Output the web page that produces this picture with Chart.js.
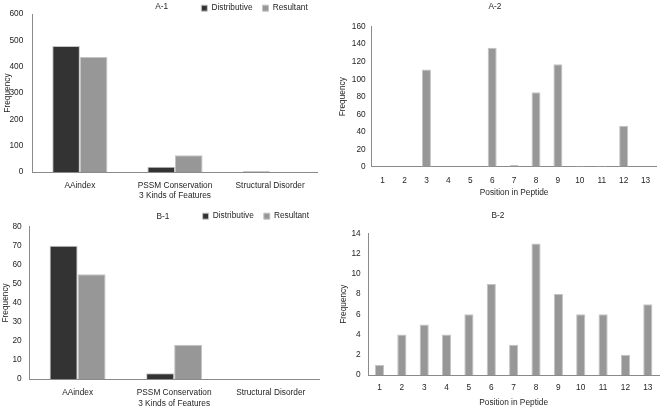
<!DOCTYPE html>
<html>
<head>
<meta charset="utf-8">
<script src="https://cdn.jsdelivr.net/npm/chart.js@4.4.1/dist/chart.umd.min.js"></script>
<style>
    body { margin: 0; background: #fff; }
    .panel { position: absolute; }
</style>
</head>
<body>
<div class="panel" style="left:0;top:0"><canvas id="a1" width="330" height="200"></canvas></div>
<div class="panel" style="left:330px;top:0"><canvas id="a2" width="331" height="200"></canvas></div>
<div class="panel" style="left:0;top:200px"><canvas id="b1" width="330" height="209"></canvas></div>
<div class="panel" style="left:330px;top:200px"><canvas id="b2" width="331" height="209"></canvas></div>
<script>
// Data
const features = ['AAindex', 'PSSM Conservation', 'Structural Disorder'];
const positions = ['1', '2', '3', '4', '5', '6', '7', '8', '9', '10', '11', '12', '13'];

const a1Distributive = [479, 20, 3];
const a1Resultant = [437, 64, 0];
const a2Counts = [0, 0, 111, 0, 0, 136, 2, 85, 117, 1, 1, 47, 0];

const b1Distributive = [70, 3, 0];
const b1Resultant = [55, 18, 0];
const b2Counts = [1, 4, 5, 4, 6, 9, 3, 13, 8, 6, 6, 2, 7];

const DARK = '#333333';
const LIGHT = '#979797';
const EDGE = '#c4c4c4';
const AXIS = '#8a8a8a';
const TEXT = '#1e1e1e';

Chart.defaults.font.family = '"Liberation Sans", Arial, sans-serif';
Chart.defaults.font.size = 8.3;
Chart.defaults.color = TEXT;

// Small panel label ("A-1" etc.) drawn on the canvas
const panelTitle = {
    id: 'panelTitle',
    afterDraw(chart, args, opts) {
        if (!opts.text) return;
        const ctx = chart.ctx;
        ctx.save();
        ctx.font = '8.3px "Liberation Sans", Arial, sans-serif';
        ctx.fillStyle = TEXT;
        ctx.textAlign = 'center';
        ctx.textBaseline = 'middle';
        ctx.fillText(opts.text, opts.x, opts.y);
        ctx.restore();
    }
};

function axes(g, xTitle, yMax, yStep) {
    return {
        x: {
            grid: { display: false, drawTicks: false },
            border: { color: AXIS },
            ticks: { padding: g.xTickPad, maxRotation: 0, autoSkip: false },
            title: {
                display: true,
                text: xTitle,
                // tick padding is counted twice by the scale fit, take it back here
                padding: { top: g.xTitleTop - g.xTickPad, bottom: g.xTitleBottom }
            }
        },
        y: {
            min: 0,
            max: yMax,
            grid: { display: false, drawTicks: false },
            border: { color: AXIS },
            ticks: { stepSize: yStep, padding: g.yTickPad },
            title: {
                display: true,
                text: 'Frequency',
                padding: { top: g.yTitlePad, bottom: 0 }
            },
            afterFit: scale => { scale.width = g.yWidth; }
        }
    };
}

function featureChart(id, title, dist, res, yMax, yStep, g) {
    return new Chart(document.getElementById(id), {
        type: 'bar',
        data: {
            labels: features,
            datasets: [
                { label: 'Distributive', data: dist, backgroundColor: DARK, borderColor: EDGE, borderWidth: 1 },
                { label: 'Resultant', data: res, backgroundColor: LIGHT, borderColor: EDGE, borderWidth: 1 }
            ]
        },
        options: {
            responsive: false,
            animation: false,
            events: [],
            layout: { padding: { top: g.top, right: g.right, left: 0, bottom: 0 } },
            datasets: { bar: { categoryPercentage: 0.58, barPercentage: 1 } },
            plugins: {
                legend: {
                    position: 'top',
                    align: 'end',
                    maxHeight: g.legendH,
                    labels: { boxWidth: 6, boxHeight: 6, padding: 10, color: TEXT }
                },
                tooltip: { enabled: false },
                panelTitle: { text: title, x: g.titleX, y: g.titleY }
            },
            scales: axes(g, '3 Kinds of Features', yMax, yStep)
        },
        plugins: [panelTitle]
    });
}

function positionChart(id, title, counts, yMax, yStep, g) {
    return new Chart(document.getElementById(id), {
        type: 'bar',
        data: {
            labels: positions,
            datasets: [
                { label: 'Frequency', data: counts, backgroundColor: LIGHT, borderColor: EDGE, borderWidth: 1 }
            ]
        },
        options: {
            responsive: false,
            animation: false,
            events: [],
            layout: { padding: { top: g.top, right: g.right, left: 0, bottom: 0 } },
            datasets: { bar: { categoryPercentage: 1, barPercentage: 0.41 } },
            plugins: {
                legend: { display: false },
                tooltip: { enabled: false },
                panelTitle: { text: title, x: g.titleX, y: g.titleY }
            },
            scales: axes(g, 'Position in Peptide', yMax, yStep)
        },
        plugins: [panelTitle]
    });
}

featureChart('a1', 'A-1', a1Distributive, a1Resultant, 600, 100, {
    top: -6, right: 12.3, legendH: 20, titleX: 161.7, titleY: 7,
    xTickPad: 8.5, xTitleTop: 0.5, xTitleBottom: -1,
    yTickPad: 9, yTitlePad: 3, yWidth: 32.3
});

positionChart('a2', 'A-2', a2Counts, 160, 20, {
    top: 26.7, right: 4.5, titleX: 165, titleY: 7,
    xTickPad: 9.3, xTitleTop: 2, xTitleBottom: 2,
    yTickPad: 6, yTitlePad: 7.7, yWidth: 41.7
});

featureChart('b1', 'B-1', b1Distributive, b1Resultant, 80, 10, {
    top: 2, right: 11, legendH: 24.7, titleX: 163, titleY: 16.5,
    xTickPad: 9, xTitleTop: 0.7, xTitleBottom: 0.3,
    yTickPad: 7.6, yTitlePad: 1, yWidth: 29.3
});

positionChart('b2', 'B-2', b2Counts, 14, 2, {
    top: 33.3, right: 2, titleX: 168, titleY: 16,
    xTickPad: 8, xTitleTop: 5, xTitleBottom: 1,
    yTickPad: 7.6, yTitlePad: 8.3, yWidth: 38.3
});
</script>
</body>
</html>
